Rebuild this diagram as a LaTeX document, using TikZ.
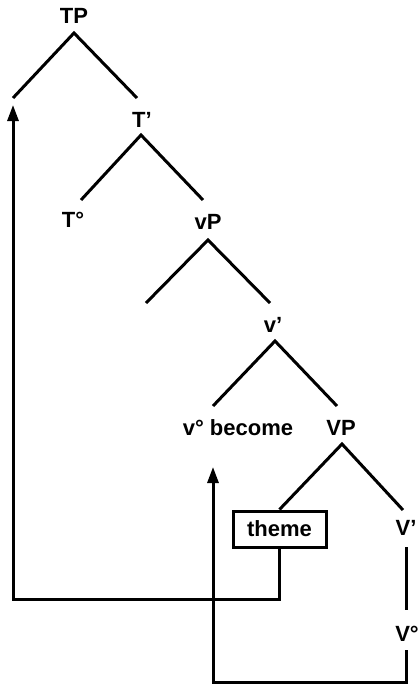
\documentclass[tikz,border=0pt]{standalone}
\usepackage{fontspec}
\setmainfont{Liberation Sans}
\usetikzlibrary{arrows.meta,calc}
\begin{document}
\begin{tikzpicture}[x=1pt,y=-1pt,
  lbl/.style={font=\fontsize{22}{24}\selectfont\bfseries, anchor=base, inner sep=0pt},
  branch/.style={line width=3pt, line cap=butt},
  move/.style={line width=3pt, -{Triangle[length=16pt,width=11pt]}},
  boxed/.style={draw, line width=3pt, font=\fontsize{22}{24}\selectfont\bfseries, minimum width=93pt, minimum height=36pt, inner sep=0pt}]
\useasboundingbox (0,0) rectangle (419,689);
% labels
\node[lbl] (TP) at (74,23) {TP};
\node[lbl] (Tbar) at (142,127) {T'};
\node[lbl] (T0) at (73,227) {T°};
\node[lbl] (vP) at (208,229) {vP};
\node[lbl] (vbar) at (273,332) {v'};
\node[lbl] (v0) at (238,435) {v° become};
\node[lbl] (VP) at (341,435) {VP};
\node[boxed] (theme) at (279.5,529) {theme};
\node[lbl] (Vbar) at (406,535) {V'};
\node[lbl] (V0) at (407,641) {V°};
% branch points
\coordinate (a1) at (74,33);   \coordinate (l1) at (13,98);   \coordinate (r1) at (137,98);
\coordinate (a2) at (141,135); \coordinate (l2) at (81,200);  \coordinate (r2) at (203,200);
\coordinate (a3) at (208,240); \coordinate (l3) at (146,303); \coordinate (r3) at (270,303);
\coordinate (a4) at (275,341); \coordinate (l4) at (213,406); \coordinate (r4) at (337,406);
\coordinate (a5) at (342,444); \coordinate (r5) at (403,510);
\draw[branch] (l1) -- (a1) -- (r1);
\draw[branch] (l2) -- (a2) -- (r2);
\draw[branch] (l3) -- (a3) -- (r3);
\draw[branch] (l4) -- (a4) -- (r4);
\draw[branch] (theme.north) -- (a5) -- (r5);
\draw[branch] ($(Vbar.base)+(0,12)$) -- ($(V0.base)+(-1,-31)$);
% movement arrows
\coordinate (t1) at (13,105);
\coordinate (t2) at (213,467);
\draw[move] (theme.south) -- ++(0,51) -| (t1);
\draw[move] ($(V0.base)+(-1,9)$) -- ++(0,32) -| (t2);
\end{tikzpicture}
\end{document}
